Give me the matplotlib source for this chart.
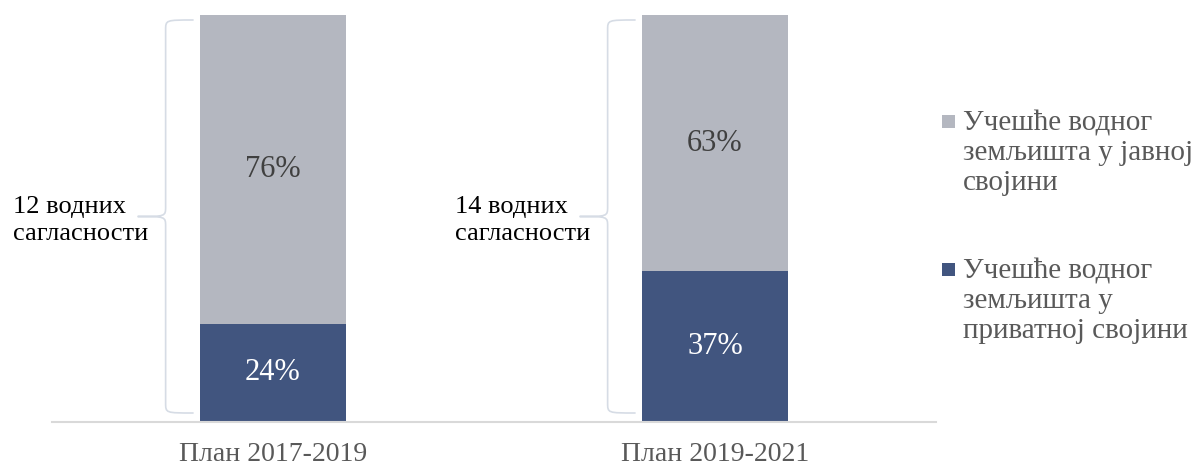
import matplotlib
matplotlib.use("Agg")
import matplotlib.pyplot as plt
from matplotlib.path import Path
from matplotlib.patches import PathPatch, Rectangle

categories = ["План 2017-2019", "План 2019-2021"]
private_share = [24, 37]
public_share = [76, 63]
group_labels = ["12 водних\nсагласности", "14 водних\nсагласности"]
legend_labels = ["Учешће водног\nземљишта у јавној\nсвојини",
                 "Учешће водног\nземљишта у\nприватној својини"]

COL_PUBLIC = "#B4B7C0"
COL_PRIVATE = "#41557F"
GREY_TXT = "#595959"

plt.rcParams['font.family'] = ['Liberation Serif', 'DejaVu Serif']

W, H = 1196, 465
fig = plt.figure(figsize=(W / 100, H / 100), dpi=100)
ax = fig.add_axes([52 / W, (H - 421.5) / H, 884 / W, 406.5 / H])

x = list(range(len(categories)))
bw = 0.332
priv = [v / 100 for v in private_share]
pub = [v / 100 for v in public_share]
ax.bar(x, priv, width=bw, color=COL_PRIVATE, zorder=2)
ax.bar(x, pub, width=bw, bottom=priv, color=COL_PUBLIC, zorder=2)

for i in x:
    ax.text(i, priv[i] / 2, f"{private_share[i]}%", ha="center", va="center",
            color="white", fontsize=22)
    ax.text(i, priv[i] + pub[i] / 2, f"{public_share[i]}%", ha="center", va="center",
            color="#404040", fontsize=22)

ax.set_xlim(-0.5, 1.5)
ax.set_ylim(0, 1)
for s in ["top", "left", "right"]:
    ax.spines[s].set_visible(False)
ax.spines["bottom"].set_color("#D9D9D9")
ax.spines["bottom"].set_linewidth(1.5)
ax.set_yticks([])
ax.set_xticks(x)
ax.set_xticklabels(categories, fontsize=20, color=GREY_TXT)
ax.tick_params(axis="x", length=0, pad=15)

# braces
px_x = 1 / 442.0
px_y = 1 / 406.5
for i in x:
    L = i - bw / 2
    xv = L - 34 * px_x
    xr = L - 6 * px_x
    xt = L - 62 * px_x
    total = priv[i] + pub[i]
    yt = total - 5 * px_y
    yb = 8.5 * px_y
    ym = (yt + yb) / 2
    r = 10 * px_y
    verts = [(xr, yt), (xv, yt), (xv, yt), (xv, yt - r),
             (xv, ym + r),
             (xv, ym), (xv, ym), (xt, ym),
             (xv, ym), (xv, ym), (xv, ym - r),
             (xv, yb + r),
             (xv, yb), (xv, yb), (xr, yb)]
    codes = [Path.MOVETO, Path.CURVE4, Path.CURVE4, Path.CURVE4,
             Path.LINETO,
             Path.CURVE4, Path.CURVE4, Path.CURVE4,
             Path.CURVE4, Path.CURVE4, Path.CURVE4,
             Path.LINETO,
             Path.CURVE4, Path.CURVE4, Path.CURVE4]
    ax.add_patch(PathPatch(Path(verts, codes), fill=False, edgecolor="#D6DCE5",
                           linewidth=1.2, clip_on=False))
    ax.text(L - 187 * px_x, (421.5 - 196) * px_y, group_labels[i], ha="left",
            va="top", fontsize=19, color="black", linespacing=1.3)

# legend (drawn manually so the marker sits on the first text line)
legend_colors = [COL_PUBLIC, COL_PRIVATE]
legend_baselines = [130, 278]
for lab, col, yb in zip(legend_labels, legend_colors, legend_baselines):
    fig.patches.append(Rectangle((942 / W, 1 - (yb - 2) / H), 13 / W, 13 / H,
                                 transform=fig.transFigure, facecolor=col,
                                 edgecolor="none"))
    fig.text(963 / W, 1 - (yb - 20) / H, lab, ha="left", va="top", fontsize=21,
             color=GREY_TXT, linespacing=1.2)

fig.savefig("out.png", dpi=100)
